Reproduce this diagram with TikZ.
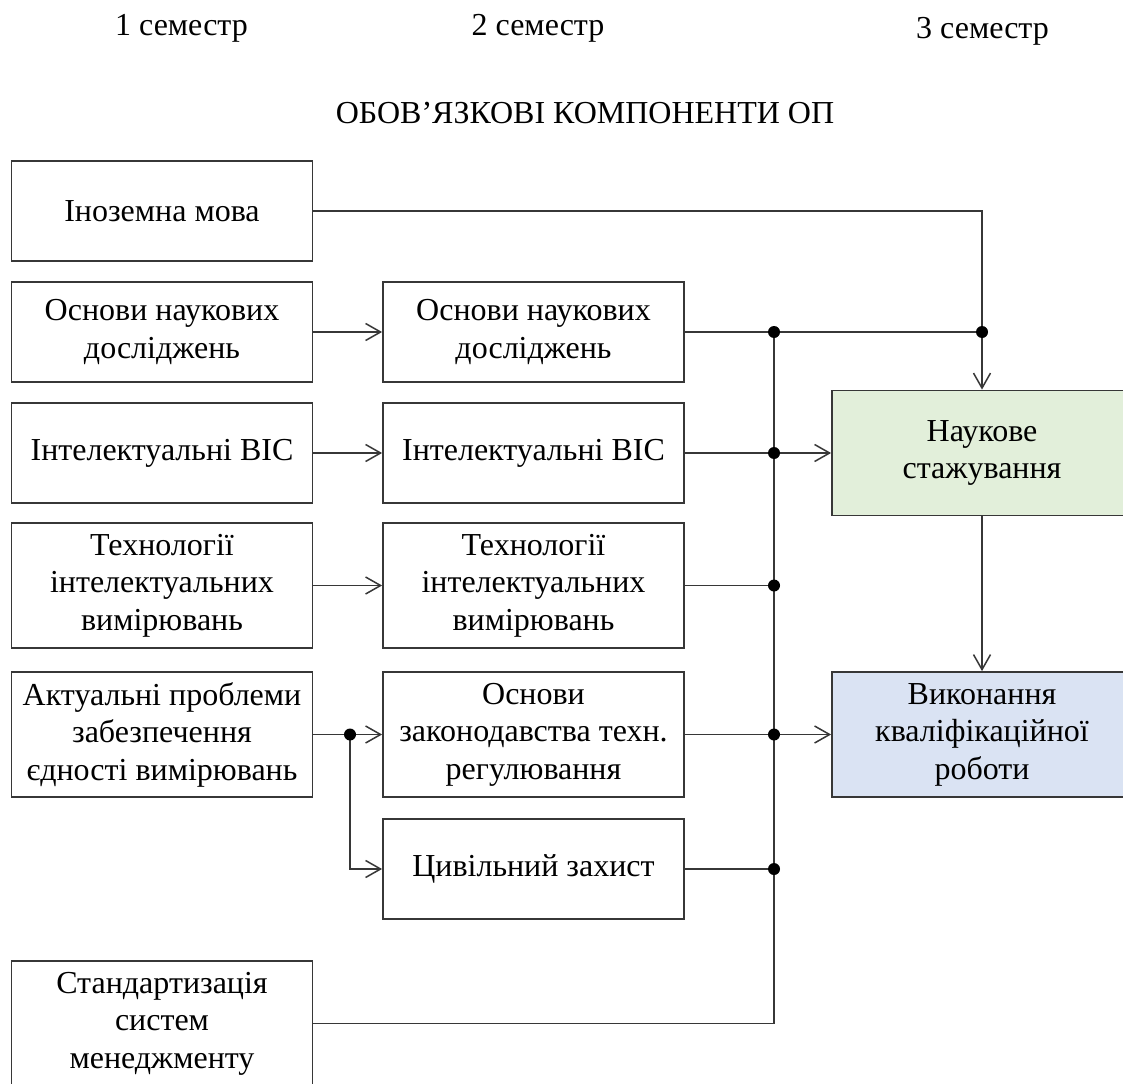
\documentclass[tikz,border=0pt]{standalone}
\usepackage{fontspec}
\setmainfont{Liberation Serif}
\usetikzlibrary{arrows.meta}
\definecolor{linec}{RGB}{55,55,55}
\definecolor{greenf}{RGB}{226,239,218}
\definecolor{bluef}{RGB}{218,227,243}
\begin{document}
\begin{tikzpicture}[x=1pt,y=-1pt,
  txt/.style={font=\fontsize{32}{37.5}\selectfont, inner sep=0pt},
  box/.style={txt, draw=linec, line width=1.8pt, fill=white, minimum width=301pt, align=center},
  h100/.style={minimum height=100pt},
  h125/.style={minimum height=125pt},
  conn/.style={draw=linec, line width=1.8pt},
  arr/.style={conn, -{Straight Barb[length=15pt,width=17pt,line width=1.5pt]}},
  dot/.style={fill=black, draw=none}
]
\useasboundingbox (0,0) rectangle (1123,1083);
\clip (0,0) rectangle (1123,1083);
\fill[white] (0,0) rectangle (1123,1083);

% headers
\node[txt, anchor=base] (s1) at (181.5,35.7) {1 семестр};
\node[txt, anchor=base] (s2) at (538,35.7) {2 семестр};
\node[txt, anchor=base] (s3) at (982.5,38.5) {3 семестр};
\node[txt, anchor=base] (title) at (585,124) {ОБОВ’ЯЗКОВІ КОМПОНЕНТИ ОП};

% column 1
\node[box,h100] (a1) at (162,211) {Іноземна мова};
\node[box,h100] (a2) at (162,332) {Основи наукових\\досліджень};
\node[box,h100] (a3) at (162,453) {Інтелектуальні ВІС};
\node[box,h125] (a4) at (162,585.5) {Технології\\інтелектуальних\\вимірювань};
\node[box,h125] (a5) at (162,734.5) {Актуальні проблеми\\забезпечення\\єдності вимірювань};
\node[box,h125] (a6) at (162,1023.5) {Стандартизація\\систем\\менеджменту};

% column 2
\node[box,h100] (b2) at (533.5,332) {Основи наукових\\досліджень};
\node[box,h100] (b3) at (533.5,453) {Інтелектуальні ВІС};
\node[box,h125] (b4) at (533.5,585.5) {Технології\\інтелектуальних\\вимірювань};
\node[box,h125] (b5) at (533.5,734.5) {Основи\\законодавства техн.\\регулювання};
\node[box,h100] (b6) at (533.5,869) {Цивільний захист};

% column 3
\node[box,h125,minimum width=300pt,fill=greenf] (c1) at (982,453) {Наукове\\стажування};
\node[box,h125,minimum width=300pt,fill=bluef] (c2) at (982,734.5) {Виконання\\кваліфікаційної\\роботи};

% helper coordinates
\coordinate (bus) at (774,0);
\coordinate (fork) at (350,734.5);

% column 1 -> column 2
\draw[arr] (a2.east) -- (b2.west);
\draw[arr] (a3.east) -- (b3.west);
\draw[arr] (a4.east) -- (b4.west);
\draw[arr] (a5.east) -- (b5.west);
\draw[arr] (fork) |- (b6.west);

% foreign language to research internship
\draw[arr] (a1.east) -| (c1.north);
\draw[conn] (b2.east) -- (b2.east -| c1.north);

% bus
\draw[conn] (a6.east) -| (b2.east -| bus);
\draw[arr] (b3.east) -- (c1.west);
\draw[conn] (b4.east) -- (b4.east -| bus);
\draw[arr] (b5.east) -- (c2.west);
\draw[conn] (b6.east) -- (b6.east -| bus);
\draw[arr] (c1.south) -- (c2.north);

% junction dots
\foreach \p in {(b2.east -| bus), (b3.east -| bus), (b4.east -| bus), (b5.east -| bus), (b6.east -| bus), (b2.east -| c1.north), (fork)}
  \fill[dot] \p circle [radius=6pt];
\end{tikzpicture}
\end{document}
